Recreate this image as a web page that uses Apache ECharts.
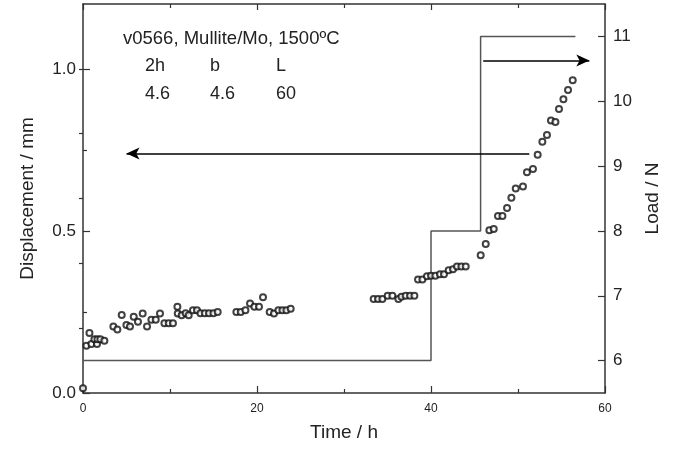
<!DOCTYPE html>
<html>
<head>
<meta charset="utf-8">
<script src="https://cdn.jsdelivr.net/npm/echarts@6/dist/echarts.min.js"></script>
<style>
html,body{margin:0;padding:0;background:#fff;}
#c{width:675px;height:454px;}
</style>
</head>
<body>
<div id="c"></div>
<script>
// ---- data ----
var timeH = [0, 0.39, 0.74, 0.97, 1.31, 1.61, 1.66, 2.0, 2.46, 3.49, 3.95, 4.45, 4.99, 5.40, 5.83, 6.32, 6.86, 7.36, 7.86, 8.36, 8.85, 9.36, 9.85, 10.34, 10.85, 10.89, 11.34, 11.8, 12.15, 12.64, 13.1, 13.5, 14.0, 14.48, 14.99, 15.48, 17.63, 18.13, 18.67, 19.2, 19.7, 20.23, 20.69, 21.46, 21.95, 22.46, 22.92, 23.38, 23.87,
  33.41, 33.91, 34.41, 35.02, 35.56, 36.25, 36.6, 37.09, 37.59, 38.09, 38.51, 39.01, 39.54, 40.0, 40.5, 41.03, 41.49, 42.03, 42.53, 42.99, 43.49, 43.99,
  45.71, 46.29, 46.71, 47.21, 47.7, 48.21, 48.74, 49.24, 49.74, 50.57, 51.03, 51.72, 52.26, 52.8, 53.33, 53.79, 54.3, 54.71, 55.22, 55.75, 56.29];
var dispMM = [0.015, 0.146, 0.185, 0.151, 0.166, 0.151, 0.166, 0.166, 0.161, 0.205, 0.196, 0.241, 0.21, 0.205, 0.235, 0.22, 0.245, 0.205, 0.226, 0.226, 0.245, 0.215, 0.215, 0.215, 0.266, 0.245, 0.24, 0.246, 0.24, 0.255, 0.255, 0.246, 0.246, 0.246, 0.246, 0.25, 0.25, 0.25, 0.255, 0.276, 0.266, 0.266, 0.295, 0.25, 0.245, 0.255, 0.255, 0.255, 0.26,
  0.29, 0.29, 0.29, 0.30, 0.30, 0.29, 0.297, 0.30, 0.30, 0.30, 0.35, 0.35, 0.36, 0.362, 0.362, 0.366, 0.366, 0.379, 0.382, 0.39, 0.39, 0.39,
  0.425, 0.46, 0.502, 0.506, 0.546, 0.546, 0.571, 0.602, 0.631, 0.637, 0.681, 0.691, 0.735, 0.775, 0.796, 0.841, 0.836, 0.876, 0.906, 0.935, 0.965];

var loadTime = [0, 40, 40, 45.7, 45.7, 56.6];
var loadN = [6, 6, 8, 8, 11, 11];

var arrowLeftX = [51.3, 5.0];
var arrowLeftY = [0.739, 0.739];
var arrowRightX = [46.0, 58.2];
var arrowRightY = [1.026, 1.026];

var timeLabels = [0, 20, 40, 60];
var dispTicks = [0, 0.5, 1.0];
var dispMinorTicks = [0.25, 0.75];
var loadTicks = [6, 7, 8, 9, 10, 11];
var loadMinorTicks = [6.5, 7.5, 8.5, 9.5, 10.5];

var titleText = 'v0566, Mullite/Mo, 1500ºC';
var paramNames = ['2h', 'b', 'L'];
var paramValues = ['4.6', '4.6', '60'];

// ---- chart ----
var FONT = '"Liberation Sans", Arial, Helvetica, sans-serif';
var AX = '#333';
var TXT = '#222';

var scatterData = timeH.map(function (t, i) { return [t, dispMM[i]]; });
var loadData = loadTime.map(function (t, i) { return [t, loadN[i]]; });

var chart = echarts.init(document.getElementById('c'), null, {renderer: 'canvas'});

var axLine = {show: true, onZero: false, lineStyle: {color: AX, width: 1.5}};

var paramX = [145, 210, 276];
var graphics = [{
  type: 'text', left: 123, top: 29,
  style: {text: titleText, font: '18.5px ' + FONT, fill: TXT}
}];
paramNames.forEach(function (n, i) {
  graphics.push({type: 'text', left: paramX[i], top: 57, style: {text: n, font: '18px ' + FONT, fill: TXT}});
  graphics.push({type: 'text', left: paramX[i], top: 85, style: {text: paramValues[i], font: '18px ' + FONT, fill: TXT}});
});

function arrowPair(xs, ys) {
  return [
    {coord: [xs[0], ys[0]], symbol: 'none', symbolSize: 0},
    {coord: [xs[1], ys[1]], symbol: 'arrow', symbolSize: [9, 13]}
  ];
}

var option = {
  animation: false,
  backgroundColor: '#fff',
  textStyle: {fontFamily: FONT},
  grid: {left: 83, right: 70, top: 4, bottom: 61, containLabel: false},
  xAxis: [{
    type: 'value', position: 'bottom', min: 0, max: 60, interval: 20,
    axisLine: axLine,
    axisTick: {show: true, inside: true, length: 7, lineStyle: {color: AX, width: 1.2}},
    minorTick: {show: true, splitNumber: 2, length: 4, lineStyle: {color: AX, width: 1.2}},
    axisLabel: {customValues: timeLabels, fontSize: 12, color: TXT, margin: 10, fontFamily: FONT},
    splitLine: {show: false}, minorSplitLine: {show: false},
    name: 'Time / h', nameLocation: 'middle', nameGap: 30,
    nameTextStyle: {fontSize: 19, color: TXT, fontFamily: FONT}
  }, {
    type: 'value', position: 'top', min: 0, max: 60, interval: 20,
    axisLine: axLine,
    axisTick: {show: true, inside: true, length: 6, lineStyle: {color: AX, width: 1.2}},
    minorTick: {show: true, splitNumber: 2, length: 4, lineStyle: {color: AX, width: 1.2}},
    axisLabel: {show: false},
    splitLine: {show: false}
  }],
  yAxis: [{
    type: 'value', position: 'left', min: 0, max: 1.2,
    axisLine: axLine,
    axisTick: {show: true, inside: true, length: 7, customValues: dispTicks, lineStyle: {color: AX, width: 1.2}},
    axisLabel: {customValues: dispTicks, fontSize: 17, color: TXT, margin: 7, fontFamily: FONT,
      formatter: function (v) { return Number(v).toFixed(1); }},
    splitLine: {show: false},
    name: 'Displacement / mm', nameLocation: 'middle', nameGap: 46,
    nameTextStyle: {fontSize: 19, color: TXT, fontFamily: FONT}
  }, {
    type: 'value', position: 'right', min: 5.5, max: 11.5,
    axisLine: axLine,
    axisTick: {show: true, inside: true, length: 7, customValues: loadTicks, lineStyle: {color: AX, width: 1.2}},
    axisLabel: {customValues: loadTicks, fontSize: 17, color: TXT, margin: 8, fontFamily: FONT},
    splitLine: {show: false},
    name: 'Load / N', nameLocation: 'middle', nameGap: 36,
    nameTextStyle: {fontSize: 19, color: TXT, fontFamily: FONT}
  }, {
    type: 'value', position: 'left', min: 0, max: 1.2,
    axisLine: {show: false},
    axisTick: {show: true, inside: true, length: 4, customValues: dispMinorTicks, lineStyle: {color: AX, width: 1.2}},
    axisLabel: {show: false},
    splitLine: {show: false}
  }, {
    type: 'value', position: 'right', min: 5.5, max: 11.5,
    axisLine: {show: false},
    axisTick: {show: true, inside: true, length: 4, customValues: loadMinorTicks, lineStyle: {color: AX, width: 1.2}},
    axisLabel: {show: false},
    splitLine: {show: false}
  }],
  graphic: graphics,
  series: [{
    type: 'line', name: 'Load', xAxisIndex: 0, yAxisIndex: 1,
    data: loadData, showSymbol: false, symbol: 'none',
    lineStyle: {color: '#555', width: 1.5}, z: 2
  }, {
    type: 'scatter', name: 'Displacement', xAxisIndex: 0, yAxisIndex: 0,
    data: scatterData, symbol: 'emptyCircle', symbolSize: 6,
    itemStyle: {color: '#111', borderWidth: 1.2}, z: 3,
    markLine: {
      silent: true, animation: false,
      symbol: ['none', 'arrow'], symbolSize: 12,
      label: {show: false},
      itemStyle: {color: '#000'},
      lineStyle: {color: '#000', width: 1.6, type: 'solid'},
      data: [
        arrowPair(arrowLeftX, arrowLeftY),
        arrowPair(arrowRightX, arrowRightY)
      ]
    }
  }]
};
chart.setOption(option);
</script>
</body>
</html>
